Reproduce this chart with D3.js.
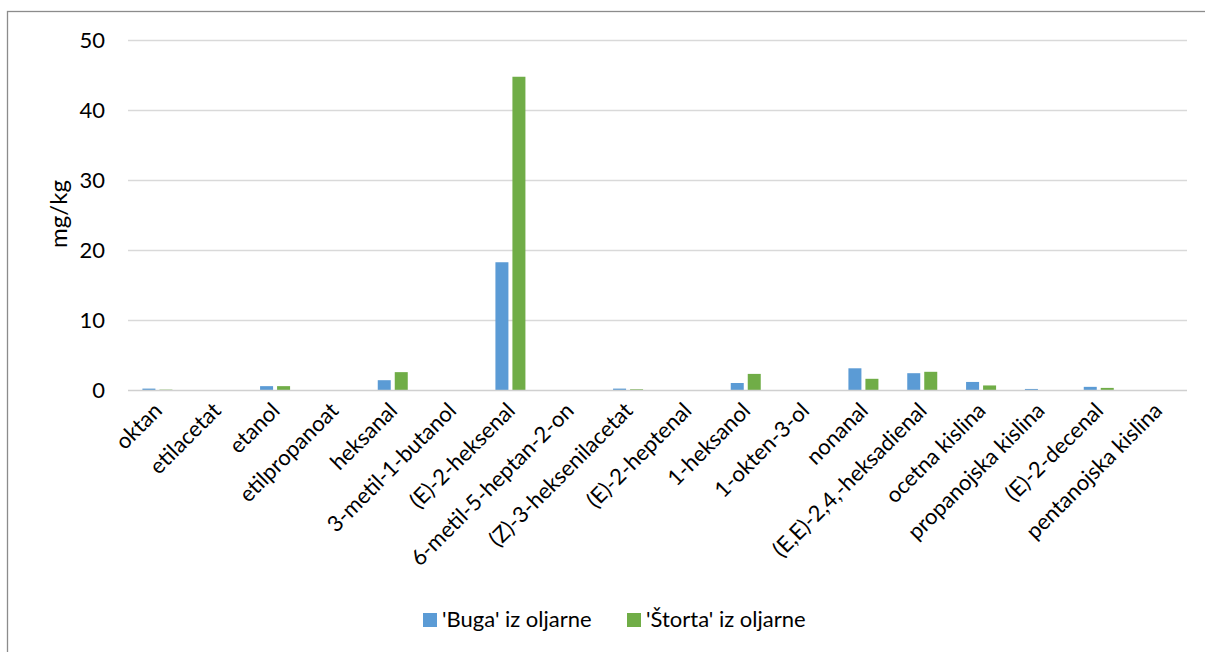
<!DOCTYPE html>
<html>
<head>
<meta charset="utf-8">
<script src="https://cdn.jsdelivr.net/npm/d3@7"></script>
<style>
  html, body { margin: 0; padding: 0; background: #fff; }
  svg { display: block; font-family: Lato, "Open Sans", sans-serif; }
</style>
</head>
<body>
<svg id="chart" width="1205" height="652"></svg>
<script>
// Volatile compounds (mg/kg) in two olive oils
const categories = [
  "oktan", "etilacetat", "etanol", "etilpropanoat", "heksanal",
  "3-metil-1-butanol", "(E)-2-heksenal", "6-metil-5-heptan-2-on",
  "(Z)-3-heksenilacetat", "(E)-2-heptenal", "1-heksanol", "1-okten-3-ol",
  "nonanal", "(E,E)-2,4,-heksadienal", "ocetna kislina",
  "propanojska kislina", "(E)-2-decenal", "pentanojska kislina"
];
const bugaValues = [0.2, 0, 0.55, 0, 1.4, 0, 18.25, 0, 0.2, 0, 1.0, 0, 3.1, 2.4, 1.15, 0.15, 0.45, 0];
const stortaValues = [0.05, 0, 0.55, 0, 2.55, 0, 44.75, 0, 0.1, 0, 2.3, 0, 1.6, 2.6, 0.65, 0, 0.3, 0];
const seriesNames = ["'Buga' iz oljarne", "'Štorta' iz oljarne"];
const yTicks = [0, 10, 20, 30, 40, 50];
const yTitle = "mg/kg";

const colors = ["#5B9BD5", "#70AD47"];
const series = [bugaValues, stortaValues];
const fontSize = 22;

const svg = d3.select("#chart");
const plot = { left: 128, right: 1187, top: 40, bottom: 390 };

// Outer chart frame
svg.append("rect")
  .attr("x", 7.5).attr("y", 11.5)
  .attr("width", 1230).attr("height", 700)
  .attr("fill", "none").attr("stroke", "#8c8c8c").attr("stroke-width", 1.3);

const x = d3.scaleBand().domain(categories).range([plot.left, plot.right]);
const y = d3.scaleLinear().domain([0, 50]).range([plot.bottom, plot.top]);

// Horizontal gridlines
svg.append("g").selectAll("line").data(yTicks.filter(t => t > 0)).join("line")
  .attr("x1", plot.left).attr("x2", plot.right)
  .attr("y1", d => Math.round(y(d)) + 0.5).attr("y2", d => Math.round(y(d)) + 0.5)
  .attr("stroke", "#d9d9d9").attr("stroke-width", 1.3);

// Y axis labels
const yAxis = svg.append("g").attr("transform", `translate(${plot.left - 23},0)`)
  .call(d3.axisLeft(y).tickValues(yTicks).tickSize(0).tickPadding(0));
yAxis.select(".domain").remove();
yAxis.selectAll("text")
  .attr("font-family", "Lato, sans-serif").attr("font-size", fontSize).attr("fill", "#000")
  .attr("dy", "0.35em");

// Y title
svg.append("text")
  .attr("transform", "translate(67,214) rotate(-90)")
  .attr("text-anchor", "middle")
  .attr("font-size", 24).attr("fill", "#000")
  .text(yTitle);

// Bars
const barW = 13, inner = 2;
series.forEach((vals, si) => {
  svg.append("g").selectAll("rect").data(categories).join("rect")
    .attr("x", (d, i) => {
      const c = x(d) + x.bandwidth() / 2;
      return si === 0 ? c - inner - barW : c + inner;
    })
    .attr("y", (d, i) => y(vals[i]))
    .attr("width", barW)
    .attr("height", (d, i) => plot.bottom - y(vals[i]))
    .attr("fill", colors[si]);
});

// Baseline
svg.append("line")
  .attr("x1", plot.left).attr("x2", plot.right)
  .attr("y1", plot.bottom + 0.5).attr("y2", plot.bottom + 0.5)
  .attr("stroke", "#d0d0d0").attr("stroke-width", 1.5);

// Category labels, rotated
const xAxis = svg.append("g").attr("transform", `translate(0,${plot.bottom})`)
  .call(d3.axisBottom(x).tickSize(0).tickPadding(0));
xAxis.select(".domain").remove();
xAxis.selectAll("text")
  .attr("font-family", "Lato, sans-serif").attr("font-size", fontSize).attr("fill", "#000")
  .attr("text-anchor", "end")
  .attr("dy", null).attr("y", null)
  .attr("transform", "translate(6,22) rotate(-45)");

// Legend
const legend = svg.append("g");
const legendX = [423, 627];
seriesNames.forEach((name, i) => {
  legend.append("rect")
    .attr("x", legendX[i]).attr("y", 613).attr("width", 14).attr("height", 14)
    .attr("fill", colors[i]);
  legend.append("text")
    .attr("x", legendX[i] + 19).attr("y", 627)
    .attr("font-size", fontSize).attr("fill", "#000")
    .text(name);
});
</script>
</body>
</html>
